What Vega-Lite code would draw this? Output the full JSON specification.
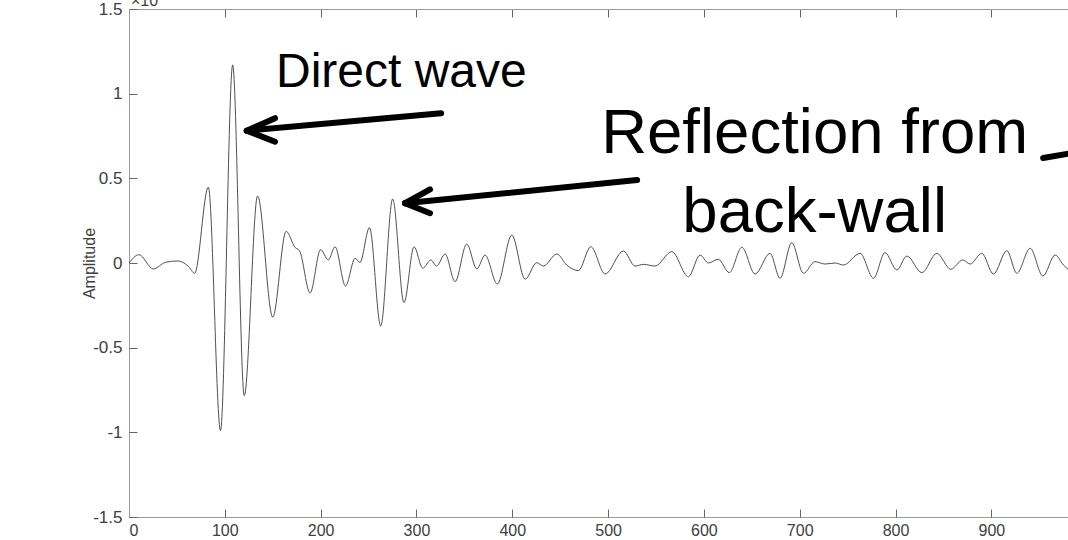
{
  "$schema": "https://vega.github.io/schema/vega-lite/v6.json",
  "autosize": {"type": "none"},
  "padding": {"left": 129, "top": 9, "right": 0, "bottom": 23},
  "width": 939,
  "height": 508,
  "background": "white",
  "config": {
    "view": {"stroke": null},
    "font": "Liberation Sans",
    "axis": {"grid": false, "domainColor": "#9a9a9a", "tickColor": "#666666", "labelColor": "#404040", "labelFont": "Liberation Sans", "labelFontSize": 17, "titleFont": "Liberation Sans"}
  },
  "resolve": {"axis": {"x": "independent", "y": "independent"}},
  "datasets": {
    "wave": [
      {"t": 0, "amp": 0}, {"t": 10.4, "amp": 0.049}, {"t": 25.4, "amp": -0.035}, {"t": 38, "amp": 0.004},
      {"t": 51, "amp": 0.012}, {"t": 62, "amp": -0.02}, {"t": 68.5, "amp": -0.061}, {"t": 82.8, "amp": 0.448},
      {"t": 95.5, "amp": -0.99}, {"t": 108.2, "amp": 1.17}, {"t": 120.3, "amp": -0.783}, {"t": 134.2, "amp": 0.396},
      {"t": 150, "amp": -0.32}, {"t": 164, "amp": 0.187}, {"t": 173.3, "amp": 0.092}, {"t": 178, "amp": 0.072},
      {"t": 189, "amp": -0.177}, {"t": 200, "amp": 0.079}, {"t": 208, "amp": 0.018}, {"t": 215, "amp": 0.096},
      {"t": 226, "amp": -0.136}, {"t": 236, "amp": 0.028}, {"t": 241, "amp": 0.003}, {"t": 251, "amp": 0.209},
      {"t": 262.7, "amp": -0.372}, {"t": 275.2, "amp": 0.378}, {"t": 287, "amp": -0.234}, {"t": 297.5, "amp": 0.096},
      {"t": 306.6, "amp": -0.031}, {"t": 315, "amp": 0.018}, {"t": 321, "amp": -0.018}, {"t": 329.9, "amp": 0.053},
      {"t": 340.3, "amp": -0.11}, {"t": 352.5, "amp": 0.112}, {"t": 363, "amp": -0.035}, {"t": 371.6, "amp": 0.047},
      {"t": 384.4, "amp": -0.124}, {"t": 399.5, "amp": 0.165}, {"t": 413.4, "amp": -0.096}, {"t": 425.6, "amp": 0.002},
      {"t": 432.5, "amp": -0.018}, {"t": 446.5, "amp": 0.053}, {"t": 456.9, "amp": -0.012}, {"t": 469, "amp": -0.045},
      {"t": 482, "amp": 0.096}, {"t": 496.9, "amp": -0.065}, {"t": 516, "amp": 0.071}, {"t": 528.2, "amp": -0.018},
      {"t": 536.9, "amp": -0.008}, {"t": 549, "amp": -0.018}, {"t": 566.5, "amp": 0.067}, {"t": 583.8, "amp": -0.081},
      {"t": 596, "amp": 0.047}, {"t": 604.7, "amp": 0.0}, {"t": 615, "amp": 0.022}, {"t": 626.6, "amp": -0.057},
      {"t": 639.6, "amp": 0.093}, {"t": 653.4, "amp": -0.065}, {"t": 669, "amp": 0.057}, {"t": 679.5, "amp": -0.09},
      {"t": 691.7, "amp": 0.12}, {"t": 703.9, "amp": -0.061}, {"t": 716, "amp": 0.008}, {"t": 726.5, "amp": -0.006},
      {"t": 737, "amp": 0.0}, {"t": 745.6, "amp": -0.012}, {"t": 763, "amp": 0.057}, {"t": 777, "amp": -0.09},
      {"t": 789, "amp": 0.061}, {"t": 801.4, "amp": -0.041}, {"t": 811.8, "amp": 0.041}, {"t": 827.5, "amp": -0.057},
      {"t": 843, "amp": 0.057}, {"t": 857.7, "amp": -0.037}, {"t": 870.2, "amp": 0.018}, {"t": 877.9, "amp": -0.006},
      {"t": 890, "amp": 0.057}, {"t": 902.2, "amp": -0.065}, {"t": 916.2, "amp": 0.073}, {"t": 926.6, "amp": -0.061},
      {"t": 940.5, "amp": 0.087}, {"t": 953.8, "amp": -0.077}, {"t": 966.6, "amp": 0.047}, {"t": 975.3, "amp": -0.012},
      {"t": 985, "amp": -0.06}
    ],
    "arrows": [
      {"x1": 122.9, "y1": 0.781, "x2": 325.7, "y2": 0.884},
      {"x1": 122.9, "y1": 0.781, "x2": 152.4, "y2": 0.855},
      {"x1": 122.9, "y1": 0.781, "x2": 152.4, "y2": 0.716},
      {"x1": 288.1, "y1": 0.353, "x2": 530.3, "y2": 0.49},
      {"x1": 288.1, "y1": 0.353, "x2": 314.2, "y2": 0.435},
      {"x1": 288.1, "y1": 0.353, "x2": 314.2, "y2": 0.294},
      {"x1": 954, "y1": 0.62, "x2": 985, "y2": 0.65}
    ],
    "labels_small": [{"x": 153.4, "y": 1.041, "text": "Direct wave"}],
    "labels_big": [
      {"x": 715.6, "y": 0.65, "text": "Reflection from"},
      {"x": 715.6, "y": 0.186, "text": "back-wall"}
    ],
    "exponent": [{"x": 0, "y": 1.5, "text": "×10"}]
  },
  "layer": [
    {
      "data": {"name": "wave"},
      "mark": {"type": "line", "color": "#505050", "strokeWidth": 1, "interpolate": "monotone", "clip": true},
      "encoding": {
        "x": {"field": "t", "type": "quantitative", "scale": {"domain": [0, 980], "nice": false, "zero": false},
          "axis": {"orient": "bottom", "values": [0, 100, 200, 300, 400, 500, 600, 700, 800, 900], "title": null, "ticks": false, "labelPadding": 5, "labelFontSize": 16}},
        "y": {"field": "amp", "type": "quantitative", "scale": {"domain": [-1.5, 1.5], "nice": false},
          "axis": {"orient": "left", "values": [-1.5, -1, -0.5, 0, 0.5, 1, 1.5], "labelExpr": "'' + datum.value", "ticks": false, "labelPadding": 7,
            "title": "Amplitude", "titleFontWeight": "normal", "titleFontSize": 16, "titleColor": "#404040", "titleX": -40, "titleBaseline": "middle"}}
      }
    },
    {
      "data": {"name": "wave"},
      "mark": {"type": "line", "opacity": 0},
      "encoding": {
        "x": {"field": "t", "type": "quantitative", "axis": {"orient": "bottom", "offset": -508, "values": [0, 100, 200, 300, 400, 500, 600, 700, 800, 900], "labels": false, "title": null, "tickSize": 8}},
        "y": {"field": "amp", "type": "quantitative", "axis": {"orient": "right", "offset": -939, "values": [-1.5, -1, -0.5, 0, 0.5, 1, 1.5], "labels": false, "title": null, "tickSize": 8, "domain": false}}
      }
    },
    {
      "data": {"name": "wave"},
      "mark": {"type": "line", "opacity": 0},
      "encoding": {
        "x": {"field": "t", "type": "quantitative", "axis": {"orient": "top", "offset": -508, "values": [0, 100, 200, 300, 400, 500, 600, 700, 800, 900], "labels": false, "title": null, "tickSize": 8, "domain": false}},
        "y": {"field": "amp", "type": "quantitative", "axis": null}
      }
    },
    {
      "data": {"name": "arrows"},
      "mark": {"type": "rule", "color": "black", "strokeWidth": 6, "strokeCap": "round", "clip": true},
      "encoding": {
        "x": {"field": "x1", "type": "quantitative", "axis": null},
        "y": {"field": "y1", "type": "quantitative", "axis": null},
        "x2": {"field": "x2"},
        "y2": {"field": "y2"}
      }
    },
    {
      "data": {"name": "labels_small"},
      "mark": {"type": "text", "fontSize": 48, "font": "Liberation Sans", "align": "left", "baseline": "alphabetic", "color": "black"},
      "encoding": {
        "x": {"field": "x", "type": "quantitative", "axis": null},
        "y": {"field": "y", "type": "quantitative", "axis": null},
        "text": {"field": "text"}
      }
    },
    {
      "data": {"name": "labels_big"},
      "mark": {"type": "text", "fontSize": 63.5, "font": "Liberation Sans", "align": "center", "baseline": "alphabetic", "color": "black"},
      "encoding": {
        "x": {"field": "x", "type": "quantitative", "axis": null},
        "y": {"field": "y", "type": "quantitative", "axis": null},
        "text": {"field": "text"}
      }
    },
    {
      "data": {"name": "exponent"},
      "mark": {"type": "text", "fontSize": 16, "font": "Liberation Sans", "align": "left", "baseline": "alphabetic", "color": "#404040", "dx": 2, "dy": -3},
      "encoding": {
        "x": {"field": "x", "type": "quantitative", "axis": null},
        "y": {"field": "y", "type": "quantitative", "axis": null},
        "text": {"field": "text"}
      }
    }
  ]
}
